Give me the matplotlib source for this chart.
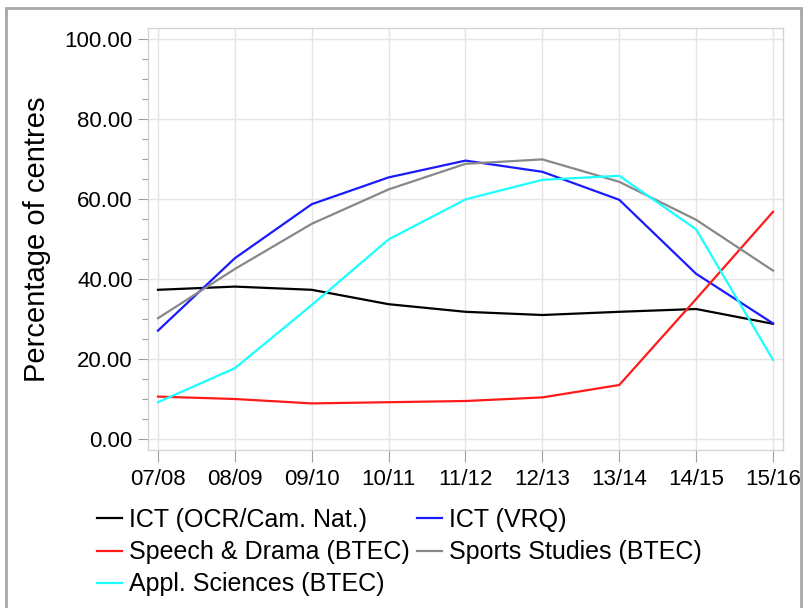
import matplotlib
matplotlib.use("Agg")
import matplotlib.pyplot as plt
from matplotlib.patches import Rectangle
from matplotlib.ticker import MultipleLocator, FormatStrFormatter

plt.rcParams['font.family'] = ['Liberation Sans', 'DejaVu Sans']

years = ["07/08", "08/09", "09/10", "10/11", "11/12", "12/13", "13/14", "14/15", "15/16"]
ict_ocr = [37.3, 38.1, 37.3, 33.7, 31.8, 31.0, 31.8, 32.5, 28.8]
ict_vrq = [27.1, 45.2, 58.7, 65.4, 69.6, 66.8, 59.8, 41.3, 28.9]
speech = [10.6, 10.0, 8.9, 9.2, 9.5, 10.4, 13.5, 35.0, 56.8]
sports = [30.2, 42.5, 53.8, 62.4, 68.8, 69.9, 64.3, 54.8, 42.1]
appl = [9.2, 17.7, 33.5, 49.9, 59.9, 64.8, 65.8, 52.4, 19.8]

series = [
    ("ICT (OCR/Cam. Nat.)", ict_ocr, "#000000"),
    ("ICT (VRQ)", ict_vrq, "#1a1aff"),
    ("Speech & Drama (BTEC)", speech, "#ff1a1a"),
    ("Sports Studies (BTEC)", sports, "#888888"),
    ("Appl. Sciences (BTEC)", appl, "#1affff"),
]

fig = plt.figure(figsize=(8.07, 6.08), dpi=100)
ax = fig.add_axes([148/807, 1-450/608, (783-148)/807, (450-28)/608])

x = list(range(len(years)))
lines = {}
for name, vals, col in series:
    ln, = ax.plot(x, vals, color=col, lw=1.6, label=name)
    lines[name] = ln

ax.set_xlim(-0.13, 8.13)
ax.set_ylim(-2.75, 102.75)
ax.set_xticks(x)
ax.set_xticklabels(years)
ax.yaxis.set_major_locator(MultipleLocator(20))
ax.yaxis.set_minor_locator(MultipleLocator(5))
ax.yaxis.set_major_formatter(FormatStrFormatter('%.2f'))
ax.grid(True, which='major', color='#e4e4e4', lw=1.0)
ax.set_axisbelow(True)
for s in ax.spines.values():
    s.set_color('#d4d4d4')
    s.set_linewidth(1.0)
ax.tick_params(axis='both', which='major', length=7.5, width=0.8, color='#a0a0a0',
               labelsize=16, pad=3.5)
ax.tick_params(axis='x', which='major', length=8.5, pad=5.5)
ax.tick_params(axis='y', which='minor', length=4, width=0.8, color='#a0a0a0')
ax.tick_params(axis='x', which='minor', length=0)
ax.set_ylabel("Percentage of centres", fontsize=21, labelpad=10)

order = ["ICT (OCR/Cam. Nat.)", "Speech & Drama (BTEC)", "Appl. Sciences (BTEC)",
         "ICT (VRQ)", "Sports Studies (BTEC)"]
fig.legend([lines[n] for n in order], order, ncol=2, loc='upper left',
           bbox_to_anchor=(97/807, 1-508/608), frameon=False, fontsize=18,
           handlelength=1.0, handletextpad=0.28, columnspacing=0.3,
           labelspacing=0.33, borderaxespad=0, borderpad=0)

fig.patches.append(Rectangle((6/807, -0.05), (801-6)/807, 1.05-8/608,
                             transform=fig.transFigure, fill=False,
                             edgecolor='#a8a8a8', lw=2.0))

fig.savefig("out.png", dpi=100)
